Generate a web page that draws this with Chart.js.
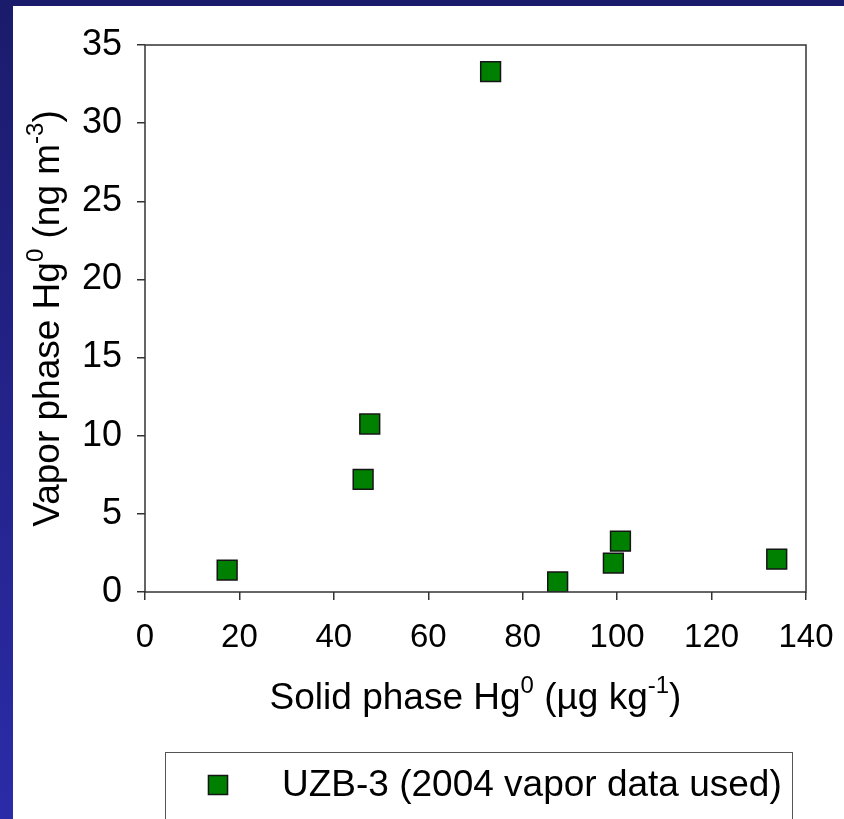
<!DOCTYPE html>
<html>
<head>
<meta charset="utf-8">
<title>Solid vs vapor phase Hg0</title>
<script src="https://cdn.jsdelivr.net/npm/chart.js"></script>
<style>
  html, body {
    margin: 0;
    padding: 0;
    width: 844px;
    height: 819px;
    overflow: hidden;
    background: linear-gradient(to bottom, #1b1b6c, #2b2ba8);
  }
  .panel {
    position: absolute;
    left: 13px;
    top: 6px;
    width: 831px;
    height: 813px;
    background: #fff;
  }
</style>
</head>
<body>
<div class="panel">
  <canvas id="hgChart" width="831" height="813"></canvas>
</div>
<script>
'use strict';

// UZB-3 borehole samples
const solidHg = [17.4, 46.2, 47.6, 73.2, 87.4, 99.2, 100.7, 133.8];   // µg kg-1
const vaporHg = [1.4, 7.2, 10.75, 33.3, 0.65, 1.85, 3.25, 2.1];        // ng m-3
const seriesLabel = 'UZB-3 (2004 vapor data used)';

const xTitle = [['Solid phase Hg', false], ['0', true], [' (\u00b5g kg', false], ['-1', true], [')', false]];
const yTitle = [['Vapor phase Hg', false], ['0', true], [' (ng m', false], ['-3', true], [')', false]];

const FONT = '"Liberation Sans", Arial, sans-serif';
const axisColor = '#333';

// draws a line of text where some pieces are superscripts
function drawRichText(ctx, parts, cx, baseY, size) {
    const supSize = Math.round(size * 0.65);
    let total = 0;
    parts.forEach(([txt, sup]) => {
        ctx.font = (sup ? supSize : size) + 'px ' + FONT;
        total += ctx.measureText(txt).width;
    });
    let x = cx - total / 2;
    ctx.textAlign = 'left';
    ctx.textBaseline = 'alphabetic';
    parts.forEach(([txt, sup]) => {
        ctx.font = (sup ? supSize : size) + 'px ' + FONT;
        ctx.fillText(txt, x, sup ? baseY - size * 0.42 : baseY);
        x += ctx.measureText(txt).width;
    });
}

const framePlugin = {
    id: 'frame',
    afterDraw(chart) {
        const {ctx, chartArea: a} = chart;
        ctx.save();

        // box around the plot
        ctx.strokeStyle = axisColor;
        ctx.lineWidth = 1.5;
        ctx.strokeRect(a.left, a.top, a.right - a.left, a.bottom - a.top);

        // axis titles
        ctx.fillStyle = '#000';
        drawRichText(ctx, xTitle, (a.left + a.right) / 2, 703, 37);
        ctx.save();
        ctx.translate(46, (a.top + a.bottom) / 2);
        ctx.rotate(-Math.PI / 2);
        drawRichText(ctx, yTitle, 0, 0, 37);
        ctx.restore();

        // legend box (runs past the bottom edge)
        ctx.strokeStyle = '#555';
        ctx.lineWidth = 1;
        ctx.strokeRect(152.5, 746.5, 627, 100);

        const ds = chart.data.datasets[0];
        ctx.fillStyle = ds.backgroundColor;
        ctx.strokeStyle = ds.borderColor;
        ctx.lineWidth = ds.borderWidth;
        Chart.helpers.drawPoint(ctx, {
            pointStyle: ds.pointStyle,
            radius: 13.5,
            rotation: 0,
            borderWidth: ds.borderWidth
        }, 205, 779);

        ctx.fillStyle = '#000';
        ctx.font = '37px ' + FONT;
        ctx.textAlign = 'left';
        ctx.textBaseline = 'middle';
        ctx.fillText(ds.label, 269, 780);

        ctx.restore();
    }
};

const points = solidHg.map((x, i) => ({x: x, y: vaporHg[i]}));

new Chart(document.getElementById('hgChart'), {
    type: 'scatter',
    data: {
        datasets: [{
            label: seriesLabel,
            data: points,
            pointStyle: 'rect',
            pointRadius: 14,
            pointHoverRadius: 14,
            backgroundColor: '#008000',
            borderColor: '#151515',
            borderWidth: 1.5
        }]
    },
    options: {
        responsive: false,
        animation: false,
        layout: {
            padding: {left: 0, top: 39, right: 38, bottom: 0}
        },
        plugins: {
            legend: {display: false},
            tooltip: {enabled: false}
        },
        scales: {
            x: {
                type: 'linear',
                min: 0,
                max: 140,
                afterFit(scale) {
                    // fixed height; end labels may overhang into the padding
                    scale.height = 227;
                    scale.paddingLeft = 0;
                    scale.paddingRight = 0;
                },
                ticks: {
                    stepSize: 20,
                    padding: 18,
                    color: '#000',
                    font: {family: FONT, size: 33}
                },
                grid: {
                    drawOnChartArea: false,
                    drawTicks: true,
                    tickLength: 8,
                    color: axisColor,
                    lineWidth: 1.5
                },
                border: {display: false}
            },
            y: {
                type: 'linear',
                min: 0,
                max: 35,
                afterFit(scale) {
                    scale.width = 132;
                    scale.paddingTop = 0;
                    scale.paddingBottom = 0;
                },
                ticks: {
                    stepSize: 5,
                    padding: 15,
                    color: '#000',
                    font: {family: FONT, size: 36}
                },
                grid: {
                    drawOnChartArea: false,
                    drawTicks: true,
                    tickLength: 8,
                    color: axisColor,
                    lineWidth: 1.5
                },
                border: {display: false}
            }
        }
    },
    plugins: [framePlugin]
});
</script>
</body>
</html>
